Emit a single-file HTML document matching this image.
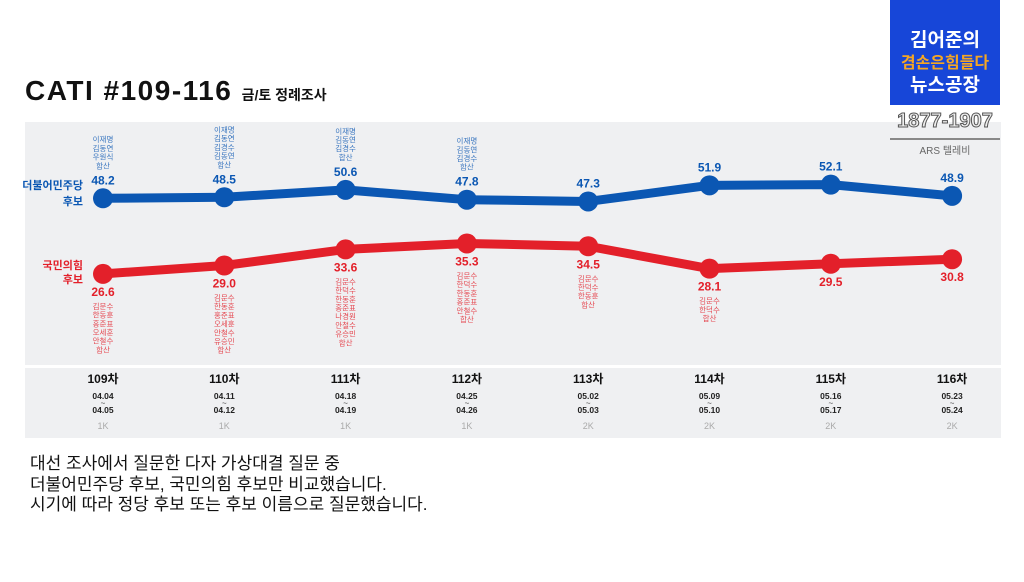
<!DOCTYPE html>
<html><head><meta charset="utf-8"><style>
body{margin:0;width:1024px;height:582px;background:#fff;overflow:hidden;font-family:"Liberation Sans","Noto Sans CJK KR",sans-serif;position:relative}
.abs{position:absolute}
</style></head><body>
<div class="abs" style="left:25px;top:75px;font-size:28px;font-weight:bold;color:#111;letter-spacing:1.5px">CATI #109-116 <span style="font-size:14px;letter-spacing:0">금/토 정례조사</span></div>
<div class="abs" style="left:25px;top:122px;width:976px;height:243px;background:#eff0f2"></div>
<div class="abs" style="left:25px;top:368px;width:976px;height:70px;background:#eff0f2"></div>
<div class="abs" style="left:890px;top:0;width:110px;height:105px;background:#1746d8;color:#fff;font-weight:bold;text-align:center;font-size:19px;line-height:22px;padding-top:30px;box-sizing:border-box">김어준의<br><span style="color:#f5a623;font-size:16px">겸손은힘들다</span><br>뉴스공장</div>
<div class="abs" style="left:890px;top:110px;width:110px;text-align:center;font-size:20px;font-weight:bold;color:#eee;-webkit-text-stroke:1px #555">1877-1907</div>
<div class="abs" style="left:890px;top:138px;width:110px;text-align:center;font-size:10px;color:#666;border-top:2px solid #888;padding-top:2px">ARS 텔레비</div>
<svg class="abs" style="left:0;top:0" width="1024" height="582" id="chart"></svg>
<div class="abs" style="left:30px;top:454px;font-size:17px;line-height:20.5px;color:#111">대선 조사에서 질문한 다자 가상대결 질문 중<br>더불어민주당 후보, 국민의힘 후보만 비교했습니다.<br>시기에 따라 정당 후보 또는 후보 이름으로 질문했습니다.</div>
<script>
const rounds=["109차","110차","111차","112차","113차","114차","115차","116차"];
const startDates=["04.04","04.11","04.18","04.25","05.02","05.09","05.16","05.23"];
const endDates=["04.05","04.12","04.19","04.26","05.03","05.10","05.17","05.24"];
const samples=["1K","1K","1K","1K","2K","2K","2K","2K"];
const demValues=[48.2,48.5,50.6,47.8,47.3,51.9,52.1,48.9];
const pppValues=[26.6,29.0,33.6,35.3,34.5,28.1,29.5,30.8];
const demNotes=[["이재명","김동연","우원식","합산"],["이재명","김동연","김경수","김동연","합산"],["이재명","김동연","김경수","합산"],["이재명","김동연","김경수","합산"],[],[],[],[]];
const pppNotes=[["김문수","한동훈","홍준표","오세훈","안철수","합산"],["김문수","한동훈","홍준표","오세훈","안철수","유승민","합산"],["김문수","한덕수","한동훈","홍준표","나경원","안철수","유승민","합산"],["김문수","한덕수","한동훈","홍준표","안철수","합산"],["김문수","한덕수","한동훈","합산"],["김문수","한덕수","합산"],[],[]];
const svg=document.getElementById('chart');const NS="http://www.w3.org/2000/svg";
const xs=i=>103+i*121.3;const ys=v=>367-v*3.5;
function mk(t,a,txt){const e=document.createElementNS(NS,t);for(const k in a)e.setAttribute(k,a[k]);if(txt!=null)e.textContent=txt;svg.appendChild(e);return e;}
function series(vals,color,notes,above,name){
 const pl=mk('polyline',{points:vals.map((v,i)=>xs(i)+','+ys(v)).join(' '),fill:'none',stroke:color,'stroke-width':9,'stroke-linejoin':'round'});
 
 
 vals.forEach((v,i)=>{
  const c=mk('circle',{cx:xs(i),cy:ys(v),r:10,fill:color});
  
  
  const ly=above?ys(v)-14:ys(v)+22;
  const t=mk('text',{x:xs(i),y:ly,'text-anchor':'middle','font-size':12,'font-weight':'bold',fill:color},v.toFixed(1));
  
  
  const n=notes[i];
  n.forEach((s,j)=>{
   const yy=above?ly-16-(n.length-1-j)*8.7:ly+13+j*8.7;
   const tt=mk('text',{x:xs(i),y:yy,'text-anchor':'middle','font-size':7.5,fill:color,opacity:0.8},s);
   
   
  });
 });
}
series(demValues,'#0b57b3',demNotes,true,'dem');
series(pppValues,'#e3202a',pppNotes,false,'ppp');
[["더불어민주당","#0b57b3",194],["후보","#0b57b3",210],["국민의힘","#e3202a",274],["후보","#e3202a",288]].forEach(l=>{
 const t=mk('text',{x:83,y:l[2]-5,'text-anchor':'end','font-size':11,'font-weight':'bold',fill:l[1]},l[0]);
 
 
});
rounds.forEach((r,i)=>{
 const a=mk('text',{x:xs(i),y:383,'text-anchor':'middle','font-size':12,'font-weight':'bold',fill:'#111'},r);
 
 
 const b=mk('text',{x:xs(i),y:399,'text-anchor':'middle','font-size':8.5,'font-weight':'bold',fill:'#222'},startDates[i]);
 
 
 mk('text',{x:xs(i),y:406,'text-anchor':'middle','font-size':8,fill:'#444'},'~');
 const c=mk('text',{x:xs(i),y:413,'text-anchor':'middle','font-size':8.5,'font-weight':'bold',fill:'#222'},endDates[i]);
 
 
 const d=mk('text',{x:xs(i),y:429,'text-anchor':'middle','font-size':9,fill:'#aaa'},samples[i]);
 
 
});
</script>
</body></html>
